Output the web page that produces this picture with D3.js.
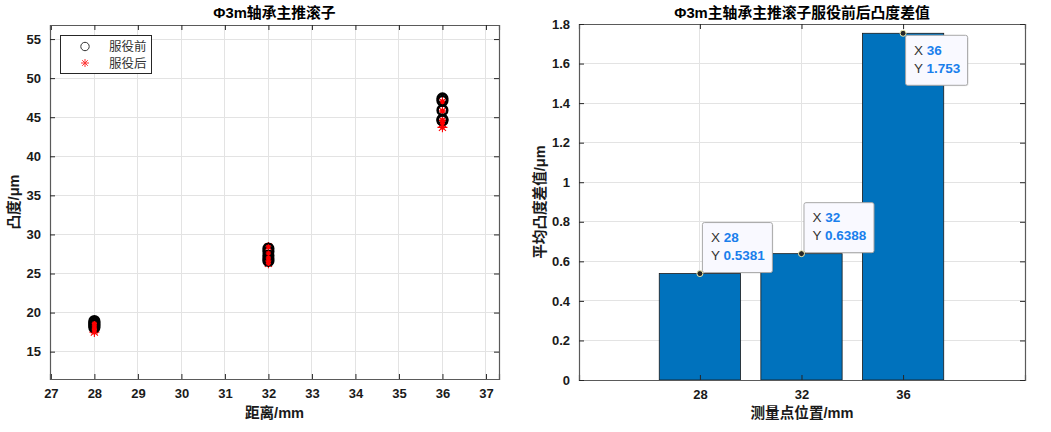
<!DOCTYPE html>
<html><head><meta charset="utf-8">
<script src="https://cdn.jsdelivr.net/npm/d3@7"></script>
<style>
body{margin:0;background:#fff;}
svg{display:block;}
text{font-family:"Liberation Sans",Arial,"Noto Sans CJK SC",sans-serif;}
.cjk{font-family:"Liberation Sans","Noto Sans CJK SC",sans-serif;}
</style></head>
<body>
<svg id="chart" width="1051" height="432"></svg>
<script>
// ---------- data ----------
const scatterPositions = [28, 32, 36];
const beforeValues = [
  [18.9, 18.7, 18.5, 18.3, 18.1],
  [28.2, 27.8, 27.3, 26.9, 26.6],
  [47.4, 47.1, 45.9, 44.7, 44.6]
];
const afterValues = [
  [18.6, 18.3, 18.0, 17.8, 17.5],
  [28.4, 27.6, 27.0, 26.6, 26.3],
  [47.0, 45.8, 44.6, 44.2, 43.7]
];
const leftXTicks = [27, 28, 29, 30, 31, 32, 33, 34, 35, 36, 37];
const leftYTicks = [15, 20, 25, 30, 35, 40, 45, 50, 55];
const legendLabels = ["服役前", "服役后"];

const barCategories = [28, 32, 36];
const barValues = [0.5381, 0.6388, 1.753];
const rightYTicks = [0, 0.2, 0.4, 0.6, 0.8, 1, 1.2, 1.4, 1.6, 1.8];

const leftTitle = "Φ3m轴承主推滚子";
const rightTitle = "Φ3m主轴承主推滚子服役前后凸度差值";
const leftXLabel = "距离/mm", leftYLabel = "凸度/μm";
const rightXLabel = "测量点位置/mm", rightYLabel = "平均凸度差值/μm";

// ---------- drawing ----------
const svg = d3.select("#chart");
const axisColor = "#262626", gridColor = "#e3e3e3", boxColor = "#5a5a5a";
const tickLen = 5;

function frame(g, x, y, xTicks, yTicks) {
  const [x0, x1] = x.range(), [y0, y1] = y.range();
  g.append("g").selectAll("line").data(xTicks).join("line")
    .attr("x1", d => x(d)).attr("x2", d => x(d)).attr("y1", y0).attr("y2", y1)
    .attr("stroke", gridColor).attr("stroke-width", 1).attr("shape-rendering","crispEdges");
  g.append("g").selectAll("line").data(yTicks).join("line")
    .attr("x1", x0).attr("x2", x1).attr("y1", d => y(d)).attr("y2", d => y(d))
    .attr("stroke", gridColor).attr("stroke-width", 1).attr("shape-rendering","crispEdges");
}
function axesOverlay(g, x, y, xTicks, yTicks, xFmt, yFmt) {
  const [x0, x1] = x.range(), [y0, y1] = y.range();
  const bottom = d3.axisBottom(x).tickValues(xTicks).tickSize(-tickLen).tickPadding(10).tickFormat(xFmt);
  const top = d3.axisTop(x).tickValues(xTicks).tickSize(-tickLen).tickFormat("");
  const left = d3.axisLeft(y).tickValues(yTicks).tickSize(-tickLen).tickPadding(9).tickFormat(yFmt);
  const right = d3.axisRight(y).tickValues(yTicks).tickSize(-tickLen).tickFormat("");
  const styleAxis = a => {
    a.selectAll("path").attr("stroke", boxColor).attr("stroke-width", 1.2);
    a.selectAll("line").attr("stroke", axisColor);
    a.selectAll("text").attr("fill", "#1a1a1a").attr("font-size", 13).attr("font-weight", "bold");
  };
  g.append("g").attr("transform", `translate(0,${y0})`).call(bottom).call(styleAxis);
  g.append("g").attr("transform", `translate(0,${y1})`).call(top).call(styleAxis);
  g.append("g").attr("transform", `translate(${x0},0)`).call(left).call(styleAxis);
  g.append("g").attr("transform", `translate(${x1},0)`).call(right).call(styleAxis);
}
function labels(g, x, y, title, xl, yl, ylx) {
  const [x0, x1] = x.range(), [y0, y1] = y.range();
  const cx = (x0 + x1) / 2, cy = (y0 + y1) / 2;
  g.append("text").attr("class","cjk").attr("x", cx).attr("y", 18).attr("text-anchor","middle")
    .attr("font-size", 14.8).attr("font-weight","bold").attr("fill","#000").text(title);
  g.append("text").attr("class","cjk").attr("x", cx).attr("y", 418).attr("text-anchor","middle")
    .attr("font-size", 14.6).attr("font-weight","bold").attr("fill","#1a1a1a").text(xl);
  g.append("text").attr("class","cjk").attr("transform", `translate(${ylx},${cy}) rotate(-90)`)
    .attr("text-anchor","middle").attr("font-size", 14.6).attr("font-weight","bold").attr("fill","#1a1a1a").text(yl);
}

// ---- left scatter ----
const gl = svg.append("g");
const xL = d3.scaleLinear().domain([26.98, 37.3]).range([50, 499]);
const yL = d3.scaleLinear().domain([11.5, 56.8]).range([379, 25]);
frame(gl, xL, yL, leftXTicks, leftYTicks);

const starPath = r => {
  const d = r * 0.707;
  return `M${-r},0L${r},0M0,${-r}L0,${r}M${-d},${-d}L${d},${d}M${-d},${d}L${d},${-d}`;
};
const beforePts = [], afterPts = [];
scatterPositions.forEach((p, i) => {
  beforeValues[i].forEach(v => beforePts.push([p, v]));
  afterValues[i].forEach(v => afterPts.push([p, v]));
});
gl.append("g").selectAll("path").data(afterPts).join("path")
  .attr("transform", d => `translate(${xL(d[0])},${yL(d[1])})`)
  .attr("d", starPath(5)).attr("stroke", "#ff0000").attr("stroke-width", 1.1).attr("fill","none");
gl.append("g").selectAll("circle").data(beforePts).join("circle")
  .attr("cx", d => xL(d[0])).attr("cy", d => yL(d[1])).attr("r", 4.8)
  .attr("fill", "none").attr("stroke", "#000").attr("stroke-width", 2.6);
gl.append("g").selectAll("path").data(afterPts).join("path")
  .attr("transform", d => `translate(${xL(d[0])},${yL(d[1])})`)
  .attr("d", starPath(2.6)).attr("stroke", "#ff0000").attr("stroke-width", 1.3).attr("fill","none");

axesOverlay(gl, xL, yL, leftXTicks, leftYTicks, d3.format("d"), d3.format("d"));
labels(gl, xL, yL, leftTitle, leftXLabel, leftYLabel, 19);

// legend
const lg = gl.append("g");
lg.append("rect").attr("x", 60.5).attr("y", 35.5).attr("width", 91).attr("height", 38)
  .attr("fill", "#fff").attr("stroke", "#262626").attr("stroke-width", 1);
lg.append("circle").attr("cx", 85).attr("cy", 46.5).attr("r", 4.2).attr("fill","none")
  .attr("stroke","#333").attr("stroke-width", 1);
lg.append("path").attr("transform","translate(85,63)").attr("d", starPath(4))
  .attr("stroke","#ff3333").attr("stroke-width",1).attr("fill","none");
lg.selectAll("text").data(legendLabels).join("text").attr("class","cjk")
  .attr("x", 109).attr("y", (d, i) => 51 + i * 16.5).attr("font-size", 12.5).attr("fill","#333").text(d => d);

// ---- right bar chart ----
const gr = svg.append("g");
const xR = d3.scaleLinear().domain([23.24, 40.8]).range([579, 1025]);
const yR = d3.scaleLinear().domain([0, 1.8]).range([380, 24]);
frame(gr, xR, yR, barCategories, rightYTicks);
const barW = 3.2;
gr.append("g").selectAll("rect").data(barValues).join("rect")
  .attr("x", (d, i) => xR(barCategories[i] - barW / 2))
  .attr("width", (d, i) => xR(barCategories[i] + barW / 2) - xR(barCategories[i] - barW / 2))
  .attr("y", d => yR(d)).attr("height", d => yR(0) - yR(d))
  .attr("fill", "#0072bd").attr("stroke", "#1a1a1a").attr("stroke-width", 0.8);
axesOverlay(gr, xR, yR, barCategories, rightYTicks, d3.format("d"), d => d3.format("~g")(d));
labels(gr, xR, yR, rightTitle, rightXLabel, rightYLabel, 545);

// data tips
const tips = gr.append("g");
barValues.forEach((v, i) => {
  const px = xR(barCategories[i]), py = yR(v);
  const xs = String(barCategories[i]), ys = String(v);
  const h = 50;
  const below = v > 1.5;
  const bx = px + 2, by = below ? py + 1.5 : py - h - 1.5;
  const t = tips.append("g");
  const shadow = t.append("rect"), box = t.append("rect");
  let maxW = 0;
  [["X", xs], ["Y", ys]].forEach((r, k) => {
    const tx = t.append("text").attr("x", bx + 9).attr("y", by + 20 + k * 18).attr("font-size", 13.5);
    tx.append("tspan").attr("fill", "#333").text(r[0] + " ");
    tx.append("tspan").attr("fill", "#1a7fec").attr("font-weight", "bold").text(r[1]);
    maxW = Math.max(maxW, tx.node().getComputedTextLength());
  });
  const w = Math.round(maxW + 16);
  shadow.attr("x", bx + 1.5).attr("y", by + 1.5).attr("width", w).attr("height", h)
    .attr("rx", 2).attr("fill", "rgba(0,0,0,0.08)");
  box.attr("x", bx + 0.5).attr("y", by + 0.5).attr("width", w).attr("height", h)
    .attr("rx", 2).attr("fill", "#f9f9ff").attr("stroke", "#a8a8a8").attr("stroke-width", 1);
  t.append("circle").attr("cx", px).attr("cy", py).attr("r", 3)
    .attr("fill", "#262626").attr("stroke", "#f2eeb0").attr("stroke-width", 1);
});
</script>
</body></html>
